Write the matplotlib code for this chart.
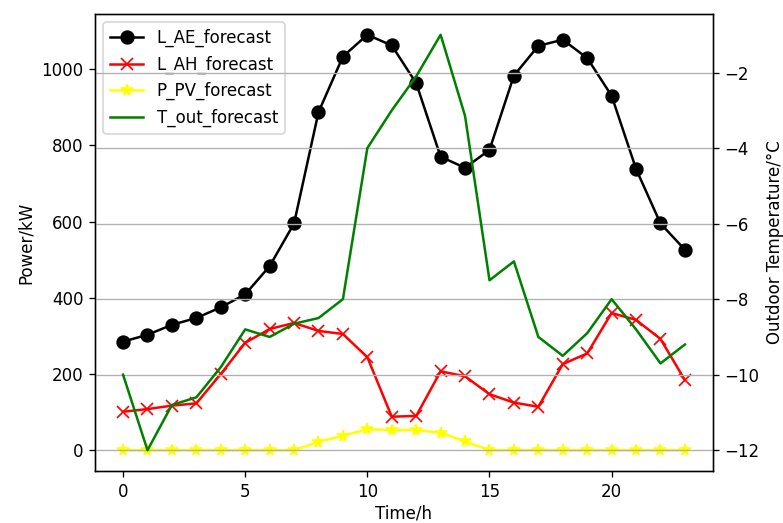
import numpy as np
import matplotlib
matplotlib.use("Agg")
import matplotlib.pyplot as plt


# hourly forecasts, 24 steps
hours = np.arange(24)

L_AE = [285, 303, 329, 347, 375, 409, 483, 595, 887, 1033, 1090, 1062,
        963, 770, 741, 788, 983, 1061, 1077, 1029, 930, 738, 595, 526]
L_AH = [101, 108, 117, 123, 200, 282, 318, 334, 313, 305, 244, 88,
        90, 207, 194, 147, 125, 114, 226, 254, 360, 342, 292, 184]
P_PV = [0, 0, 0, 0, 0, 0, 0, 0, 22, 38, 55, 53,
        53, 46, 23, 0, 0, 0, 0, 0, 0, 0, 0, 0]
T_out = [-10.0, -12.0, -10.8, -10.6, -9.8, -8.8, -9.0, -8.65, -8.5, -8.0,
         -4.0, -3.0, -2.1, -1.0, -3.15, -7.5, -7.0, -9.0, -9.5, -8.9,
         -8.0, -8.8, -9.7, -9.2]

DPI = 120
fig = plt.figure(figsize=(783 / DPI, 523 / DPI), dpi=DPI)
ax1 = fig.add_axes([0.1213, 0.0994, 0.7893, 0.8738])

ax1.plot(hours, L_AE, color="black", marker="o", markersize=7.6,
         linewidth=1.5, label="L_AE_forecast")
ax1.plot(hours, L_AH, color="red", marker="x", markersize=7,
         linewidth=1.5, label="L_AH_forecast")
ax1.plot(hours, P_PV, color="yellow", marker="*", markersize=7,
         linewidth=1.5, label="P_PV_forecast")
ax1.set_xlabel("Time/h", labelpad=2)
ax1.set_ylabel("Power/kW")

ax2 = ax1.twinx()
ax2.plot(hours, T_out, color="green", linewidth=1.5, label="T_out_forecast")
ax2.set_ylabel("Outdoor Temperature/°C")
ax2.grid(axis="y", color="#b0b0b0", linewidth=0.8)

# one legend for both axes
h1, l1 = ax1.get_legend_handles_labels()
h2, l2 = ax2.get_legend_handles_labels()
ax1.legend(h1 + h2, l1 + l2, loc="upper left")

fig.savefig("out.png", dpi=DPI)
